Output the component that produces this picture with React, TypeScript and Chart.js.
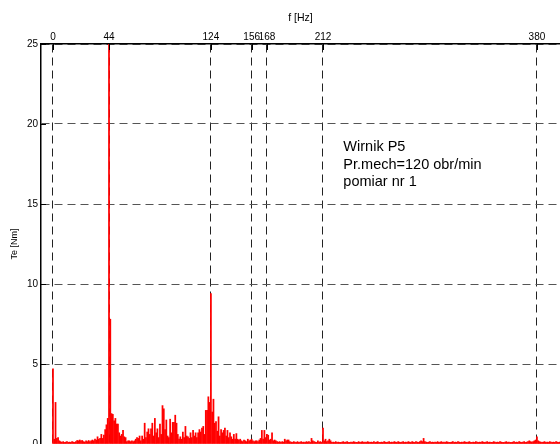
import React, { useEffect, useRef } from "react";
import { Chart, registerables } from "chart.js";

Chart.register(...registerables);

// Frequency ticks on the top axis [Hz]
const FREQ_TICKS = [0, 44, 124, 156, 168, 212, 380];
// Torque ticks [Nm]
const TE_TICKS = [0, 5, 10, 15, 20, 25];
// Spectrum amplitude Te [Nm] at 1 Hz steps, index = frequency in Hz (0..398)
const TE_NM = [
  4.7, 0.3, 2.6, 0.35, 0.4, 0.2, 0.15, 0.1, 0.15, 0.1, 0.12, 0.15, 0.1, 0.12, 0.1, 0.15, 0.12, 0.1, 0.15, 0.22,
  0.2, 0.25, 0.2, 0.22, 0.15, 0.12, 0.2, 0.15, 0.22, 0.15, 0.2, 0.25, 0.2, 0.3, 0.25, 0.45, 0.3, 0.35, 0.6, 0.35,
  0.55, 0.9, 1.2, 1.6, 25.5, 7.8, 1.9, 1.85, 1.45, 1.6, 1.25, 1.25, 0.7, 0.5, 0.6, 0.85, 0.45, 0.4, 0.15, 0.2,
  0.2, 0.15, 0.2, 0.15, 0.2, 0.3, 0.4, 0.35, 0.5, 0.2, 0.5, 0.3, 1.3, 0.4, 0.75, 0.95, 0.6, 0.95, 1.3, 0.5,
  1.6, 0.7, 0.95, 0.4, 1.25, 0.6, 2.4, 2.2, 0.9, 1.5, 0.5, 0.4, 1.55, 0.7, 1.35, 1.35, 1.8, 1.3, 0.6, 0.3,
  0.45, 0.3, 0.75, 0.4, 1.1, 0.5, 0.45, 0.35, 0.7, 0.4, 0.85, 0.5, 0.7, 0.4, 0.7, 0.9, 0.75, 1.0, 1.1, 0.6,
  2.1, 2.1, 2.95, 2.6, 9.4, 2.0, 2.8, 1.3, 1.4, 0.8, 1.7, 0.5, 0.9, 0.7, 0.85, 1.0, 0.5, 0.85, 0.4, 0.7,
  0.45, 0.3, 0.6, 0.3, 0.65, 0.3, 0.25, 0.3, 0.2, 0.15, 0.25, 0.2, 0.15, 0.3, 0.2, 0.25, 0.3, 0.2, 0.15, 0.2,
  0.2, 0.15, 0.25, 0.35, 0.85, 0.3, 0.85, 0.4, 0.6, 0.55, 0.25, 0.3, 0.7, 0.2, 0.25, 0.2, 0.15, 0.12, 0.15, 0.1,
  0.15, 0.12, 0.3, 0.2, 0.25, 0.25, 0.15, 0.12, 0.1, 0.15, 0.12, 0.1, 0.15, 0.1, 0.12, 0.15, 0.1, 0.12, 0.1, 0.15,
  0.12, 0.15, 0.1, 0.35, 0.2, 0.15, 0.12, 0.1, 0.2, 0.12, 0.15, 0.1, 1.0, 0.2, 0.3, 0.15, 0.2, 0.3, 0.2, 0.1,
  0.12, 0.1, 0.15, 0.1, 0.12, 0.1, 0.1, 0.12, 0.15, 0.1, 0.12, 0.15, 0.1, 0.1, 0.12, 0.1, 0.15, 0.12, 0.1, 0.1,
  0.15, 0.1, 0.12, 0.15, 0.1, 0.12, 0.1, 0.15, 0.12, 0.1, 0.12, 0.1, 0.15, 0.1, 0.12, 0.15, 0.1, 0.1, 0.12, 0.1,
  0.15, 0.12, 0.1, 0.12, 0.15, 0.1, 0.12, 0.1, 0.15, 0.12, 0.1, 0.15, 0.12, 0.1, 0.12, 0.15, 0.1, 0.12, 0.1, 0.15,
  0.12, 0.1, 0.15, 0.12, 0.1, 0.15, 0.12, 0.1, 0.15, 0.2, 0.15, 0.35, 0.15, 0.12, 0.1, 0.12, 0.15, 0.1, 0.12, 0.1,
  0.12, 0.1, 0.15, 0.1, 0.12, 0.15, 0.1, 0.12, 0.1, 0.15, 0.12, 0.1, 0.1, 0.12, 0.15, 0.1, 0.12, 0.1, 0.15, 0.12,
  0.1, 0.12, 0.1, 0.15, 0.12, 0.1, 0.12, 0.15, 0.1, 0.1, 0.12, 0.1, 0.15, 0.12, 0.1, 0.12, 0.1, 0.15, 0.12, 0.1,
  0.12, 0.15, 0.1, 0.12, 0.1, 0.1, 0.15, 0.12, 0.1, 0.12, 0.1, 0.15, 0.12, 0.1, 0.1, 0.12, 0.15, 0.1, 0.12, 0.1,
  0.1, 0.12, 0.15, 0.1, 0.12, 0.1, 0.15, 0.12, 0.1, 0.12, 0.15, 0.1, 0.12, 0.15, 0.2, 0.15, 0.12, 0.15, 0.2, 0.25,
  0.45, 0.2, 0.15, 0.12, 0.1, 0.12, 0.15, 0.1, 0.12, 0.1, 0.15, 0.12, 0.1, 0.12, 0.1, 0.15, 0.12, 0.1, 0.12,
];
const ANNOTATION_LINES = ["Wirnik P5", "Pr.mech=120 obr/min", "pomiar nr 1"];
const ANNOT_F = 228; // Hz anchor of the annotation
const ANNOT_TE = 18.3; // Nm anchor of the first baseline

const X_MIN = -9.4;
const X_MAX = 398.1;
const FONT = '"Liberation Sans", Arial, Helvetica, sans-serif';

const decorPlugin = {
  id: "decor",
  afterDraw(chart: any) {
    const { ctx, chartArea: ca, scales } = chart;
    const x = scales.x;
    const y = scales.y;
    ctx.save();
    ctx.strokeStyle = "#000";
    ctx.lineWidth = 1;
    FREQ_TICKS.forEach((f) => {
      const px = Math.round(x.getPixelForValue(f)) + 0.5;
      ctx.beginPath();
      ctx.moveTo(px, ca.top);
      ctx.lineTo(px, ca.top + 6);
      ctx.stroke();
    });
    TE_TICKS.forEach((v) => {
      const py = Math.round(y.getPixelForValue(v)) + 0.5;
      ctx.beginPath();
      ctx.moveTo(ca.left, py);
      ctx.lineTo(ca.left + 5, py);
      ctx.stroke();
    });
    ctx.fillStyle = "#000";
    ctx.font = `14.5px ${FONT}`;
    ctx.textAlign = "left";
    ctx.textBaseline = "alphabetic";
    const ax = x.getPixelForValue(ANNOT_F);
    const ay = y.getPixelForValue(ANNOT_TE);
    ANNOTATION_LINES.forEach((t, i) => ctx.fillText(t, ax, ay + i * 17.3));
    ctx.restore();
  },
};

export default function App() {
  const ref = useRef<HTMLCanvasElement | null>(null);

  useEffect(() => {
    if (!ref.current) return;
    const chart = new Chart(ref.current, {
      type: "bar",
      data: {
        datasets: [
          {
            data: TE_NM.map((v, i) => ({ x: i, y: v })),
            backgroundColor: "#ff0000",
            borderWidth: 0,
            barThickness: 1.1,
            grouped: false,
          } as any,
        ],
      },
      options: {
        responsive: false,
        animation: false,
        devicePixelRatio: 1,
        layout: { padding: { left: 0, right: 0, top: 0, bottom: 16 } },
        plugins: { legend: { display: false }, tooltip: { enabled: false } },
        scales: {
          x: {
            type: "linear",
            position: "top",
            offset: false,
            min: X_MIN,
            max: X_MAX,
            afterBuildTicks: (scale: any) => {
              scale.ticks = FREQ_TICKS.map((v) => ({ value: v }));
            },
            afterFit: (scale: any) => {
              scale.height = 44;
            },
            ticks: {
              autoSkip: false,
              maxRotation: 0,
              padding: 1,
              color: "#000",
              font: { family: FONT, size: 10 },
              callback: (v: any) => String(v),
            },
            grid: { color: "#222", lineWidth: 1, drawTicks: false, offset: false },
            border: { display: true, color: "#000", width: 1.5, dash: [8, 5] },
            title: {
              display: true,
              text: "f [Hz]",
              color: "#000",
              font: { family: FONT, size: 10.5 },
              padding: { top: 12, bottom: 0 },
            },
          },
          y: {
            type: "linear",
            min: 0,
            max: 25,
            afterBuildTicks: (scale: any) => {
              scale.ticks = TE_TICKS.map((v) => ({ value: v }));
            },
            afterFit: (scale: any) => {
              scale.width = 41;
            },
            ticks: {
              padding: 3,
              color: "#000",
              font: { family: FONT, size: 10 },
            },
            grid: { color: "#555", lineWidth: 1, drawTicks: false },
            border: { display: true, color: "#000", width: 1.5, dash: [8, 5] },
            title: {
              display: true,
              text: "Te [Nm]",
              color: "#000",
              font: { family: FONT, size: 9 },
              padding: { top: 9, bottom: 0 },
            },
          },
        },
      },
      plugins: [decorPlugin],
    } as any);
    return () => chart.destroy();
  }, []);

  return (
    <div style={{ position: "fixed", left: 0, top: 0, width: 560, height: 460, background: "#fff" }}>
      <canvas ref={ref} width={560} height={460} style={{ width: 560, height: 460, display: "block" }} />
    </div>
  );
}
